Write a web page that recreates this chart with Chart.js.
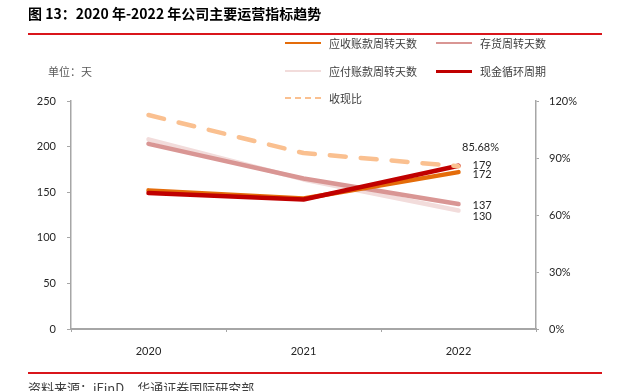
<!DOCTYPE html>
<html>
<head>
<meta charset="utf-8">
<script src="https://cdn.jsdelivr.net/npm/chart.js@4.4.1/dist/chart.umd.min.js"></script>
<style>
  html, body { margin: 0; padding: 0; background: #fff; }
  body { width: 617px; height: 391px; position: relative; overflow: hidden;
         font-family: "Noto Sans CJK SC", "Noto Sans", sans-serif; }
  #chartBox { position: absolute; left: 0; top: 0; width: 617px; height: 391px; }
  .title { position: absolute; left: 28px; top: 3px; font-size: 14px; font-weight: bold; color: #000; white-space: nowrap; }
  .rule { position: absolute; left: 28px; width: 574px; height: 1.5px; background: #D9151B; }
  .unit { position: absolute; left: 48px; top: 63px; font-size: 11px; color: #595959; }
  .legend-item { position: absolute; height: 16px; font-size: 11px; color: #404040; white-space: nowrap; }
  .legend-item .swatch { position: absolute; left: 0; top: 7px; width: 36px; height: 0; }
  .legend-item span { position: absolute; left: 44px; top: 0; line-height: 16px; }
  .footer { position: absolute; left: 28px; top: 378px; font-size: 13px; color: #404040; white-space: nowrap; }
</style>
</head>
<body>
<div id="chartBox"><canvas id="opsChart" width="617" height="391"></canvas></div>
<div class="title">图 13：2020 年-2022 年公司主要运营指标趋势</div>
<div class="rule" style="top:33px"></div>
<div class="unit">单位：天</div>
<div id="legend"></div>
<div class="rule" style="top:372px"></div>
<div class="footer">资料来源：iFinD，华通证券国际研究部</div>

<script>
/* ---- data ---- */
var years        = ['2020', '2021', '2022'];
var arDays       = [152, 143, 172];   // 应收账款周转天数
var invDays      = [203, 165, 137];   // 存货周转天数
var apDays       = [208, 164, 130];   // 应付账款周转天数
var cashCycle    = [149, 142, 179];   // 现金循环周期
var cashRatio    = [112.6, 92.6, 85.68]; // 收现比 (%)
var leftTicks    = [0, 50, 100, 150, 200, 250];
var rightTicks   = [0, 30, 60, 90, 120];

var seriesNames  = ['应收账款周转天数', '存货周转天数', '应付账款周转天数', '现金循环周期', '收现比'];

/* ---- styles ---- */
var cOrange = '#E46C0A', cDusty = '#D99694', cLight = '#F2DCDB', cRed = '#C00000', cPeach = '#FAC090';
var axisGrey = '#A6A6A6';
var numFont = { family: 'Lato, "Liberation Sans", sans-serif', size: 11 };

/* ---- HTML legend ---- */
var legendSpec = [
  { name: seriesNames[0], color: cOrange, x: 285, y: 35, w: 2.5 },
  { name: seriesNames[1], color: cDusty,  x: 436, y: 35, w: 2.5 },
  { name: seriesNames[2], color: cLight,  x: 285, y: 63, w: 2.5 },
  { name: seriesNames[3], color: cRed,    x: 436, y: 63, w: 3 },
  { name: seriesNames[4], color: cPeach,  x: 285, y: 90, w: 2.5, dashed: true }
];
var legendEl = document.getElementById('legend');
legendSpec.forEach(function (it) {
  var d = document.createElement('div');
  d.className = 'legend-item';
  d.style.left = it.x + 'px';
  d.style.top = it.y + 'px';
  var border = it.w + 'px ' + (it.dashed ? 'dashed ' : 'solid ') + it.color;
  d.innerHTML = '<div class="swatch" style="border-top:' + border + '"></div><span>' + it.name + '</span>';
  legendEl.appendChild(d);
});

/* ---- end-point value labels ---- */
var endLabels = {
  id: 'endLabels',
  afterDatasetsDraw: function (chart) {
    var ctx = chart.ctx;
    ctx.save();
    ctx.font = '11px ' + numFont.family;
    ctx.fillStyle = '#262626';
    ctx.textBaseline = 'middle';
    chart.data.datasets.forEach(function (ds, i) {
      if (!ds.endLabel) return;
      var pt = chart.getDatasetMeta(i).data[ds.data.length - 1];
      ctx.textAlign = ds.endLabel.align || 'left';
      var txt = ds.data[ds.data.length - 1] + (ds.yAxisID === 'y1' ? '%' : '');
      ctx.fillText(txt, pt.x + ds.endLabel.dx, pt.y + ds.endLabel.dy);
    });
    ctx.restore();
  }
};

function lineSet(label, data, color, order, extra) {
  var ds = {
    label: label, data: data, borderColor: color, backgroundColor: color,
    borderWidth: 4.5, pointRadius: 0, tension: 0, order: order,
    borderCapStyle: 'round', borderJoinStyle: 'round', yAxisID: 'y'
  };
  for (var k in extra) ds[k] = extra[k];
  return ds;
}

new Chart(document.getElementById('opsChart').getContext('2d'), {
  type: 'line',
  data: {
    labels: years,
    datasets: [
      lineSet(seriesNames[0], arDays, cOrange, 2, { endLabel: { dx: 14, dy: 2 } }),
      lineSet(seriesNames[1], invDays, cDusty, 3, { endLabel: { dx: 14, dy: 1 } }),
      lineSet(seriesNames[2], apDays, cLight, 4, { endLabel: { dx: 14, dy: 6 } }),
      lineSet(seriesNames[3], cashCycle, cRed, 1, { endLabel: { dx: 14, dy: 0 } }),
      lineSet(seriesNames[4], cashRatio, cPeach, 0, {
        yAxisID: 'y1', borderDash: [16, 15], borderCapStyle: 'round',
        endLabel: { dx: 22, dy: -19, align: 'center' }
      })
    ]
  },
  options: {
    responsive: false,
    animation: false,
    layout: { padding: { top: 101, left: 0, right: 0, bottom: 0 } },
    plugins: { legend: { display: false }, tooltip: { enabled: false } },
    scales: {
      x: {
        offset: true,
        grid: { drawOnChartArea: false, drawTicks: true, tickLength: 3, color: axisGrey, offset: true },
        border: { color: axisGrey, width: 2 },
        ticks: { color: '#262626', font: numFont, padding: 13, maxRotation: 0 },
        afterFit: function (s) { s.height = 62; }
      },
      y: {
        position: 'left', min: 0, max: 250,
        afterBuildTicks: function (s) { s.ticks = leftTicks.map(function (v) { return { value: v }; }); },
        grid: { drawOnChartArea: false, drawTicks: true, tickLength: 4, color: axisGrey },
        border: { color: axisGrey, width: 1.5 },
        ticks: { color: '#262626', font: numFont, padding: 11 },
        afterFit: function (s) { s.width = 71; }
      },
      y1: {
        position: 'right', min: 0, max: 120,
        afterBuildTicks: function (s) { s.ticks = rightTicks.map(function (v) { return { value: v }; }); },
        grid: { drawOnChartArea: false, drawTicks: true, tickLength: 3, color: axisGrey },
        border: { color: axisGrey, width: 1.5 },
        ticks: { color: '#262626', font: numFont, padding: 10,
                 callback: function (v) { return v + '%'; } },
        afterFit: function (s) { s.width = 81; }
      }
    }
  },
  plugins: [endLabels]
});
</script>
</body>
</html>
